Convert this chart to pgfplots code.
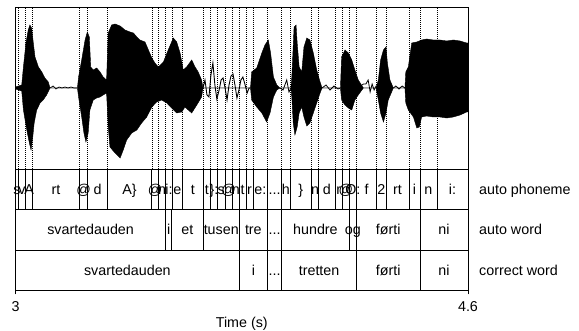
\documentclass[border=0pt]{standalone}
\usepackage{pgfplots}
\pgfplotsset{compat=1.18}
\usepgfplotslibrary{fillbetween}
\usepackage{fontspec}
\setmainfont{Liberation Sans}
\newcommand\lab{\fontsize{14.3}{16}\selectfont}
\tikzset{pl/.style={font=\lab, inner sep=0pt, anchor=base, yshift=-5.1pt},
         rl/.style={font=\lab, inner sep=0pt, anchor=base west, xshift=11pt, yshift=-5.1pt},
         tl/.style={black, line width=0.7pt}}
\begin{document}
\begin{tikzpicture}
% ---------------- tiers and frame ----------------
\begin{axis}[
  at={(0pt,0pt)}, anchor=south west,
  scale only axis, width=452.5pt, height=283.5pt,
  xmin=3, xmax=4.6, ymin=0, ymax=7,
  xtick={3,4.6}, xticklabels={3,4.6}, ytick=\empty, xtick pos=bottom,
  tick align=outside, major tick length=4pt,
  xtick style={black, line width=0.8pt},
  x tick label style={font=\lab, yshift=-3pt},
  xlabel={Time (s)},
  xlabel style={font=\lab, at={(axis description cs:0.5,0)}, anchor=center, yshift=-33.5pt},
  axis line style={line width=0.8pt},
  clip=false,
  /pgf/number format/assume math mode=true,
]
\addplot[tl] coordinates {(3,1) (4.6,1)};
\addplot[tl] coordinates {(3,2) (4.6,2)};
\addplot[tl] coordinates {(3,3) (4.6,3)};
% phoneme boundaries
\pgfplotsinvokeforeach{3.010,3.036,3.061,3.226,3.255,3.325,3.482,3.505,3.531,3.554,3.590,3.664,3.690,3.714,3.741,3.767,3.791,3.815,3.840,3.891,3.941,3.971,4.047,4.071,4.130,4.156,4.180,4.206,4.277,4.310,4.391,4.430,4.490}{
  \addplot[tl] coordinates {(#1,2) (#1,3)};
}
% auto word boundaries
\pgfplotsinvokeforeach{3.531,3.552,3.664,3.791,3.891,3.941,4.180,4.206,4.430}{
  \addplot[tl] coordinates {(#1,1) (#1,2)};
}
% correct word boundaries
\pgfplotsinvokeforeach{3.791,3.891,3.941,4.206,4.430}{
  \addplot[tl] coordinates {(#1,0) (#1,1)};
}
% phoneme labels
\node[pl] at (axis cs:3.005,2.5) {s};
\node[pl] at (axis cs:3.023,2.5) {v};
\node[pl] at (axis cs:3.0485,2.5) {A};
\node[pl] at (axis cs:3.1435,2.5) {rt};
\node[pl] at (axis cs:3.2405,2.5) {@};
\node[pl] at (axis cs:3.290,2.5) {d};
\node[pl] at (axis cs:3.4035,2.5) {A\}};
\node[pl] at (axis cs:3.4935,2.5) {@};
\node[pl] at (axis cs:3.518,2.5) {n};
\node[pl] at (axis cs:3.5425,2.5) {i:};
\node[pl] at (axis cs:3.572,2.5) {e};
\node[pl] at (axis cs:3.627,2.5) {t};
\node[pl] at (axis cs:3.677,2.5) {t};
\node[pl] at (axis cs:3.702,2.5) {\}:};
\node[pl] at (axis cs:3.7275,2.5) {s};
\node[pl] at (axis cs:3.754,2.5) {@};
\node[pl] at (axis cs:3.779,2.5) {n};
\node[pl] at (axis cs:3.803,2.5) {t};
\node[pl] at (axis cs:3.8275,2.5) {r};
\node[pl] at (axis cs:3.8655,2.5) {e:};
\node[pl] at (axis cs:3.916,2.5) {...};
\node[pl] at (axis cs:3.956,2.5) {h};
\node[pl] at (axis cs:4.009,2.5) {\}};
\node[pl] at (axis cs:4.059,2.5) {n};
\node[pl] at (axis cs:4.1005,2.5) {d};
\node[pl] at (axis cs:4.143,2.5) {r};
\node[pl] at (axis cs:4.168,2.5) {@};
\node[pl] at (axis cs:4.193,2.5) {O:};
\node[pl] at (axis cs:4.2415,2.5) {f};
\node[pl] at (axis cs:4.2935,2.5) {2};
\node[pl] at (axis cs:4.3505,2.5) {rt};
\node[pl] at (axis cs:4.4105,2.5) {i};
\node[pl] at (axis cs:4.460,2.5) {n};
\node[pl] at (axis cs:4.545,2.5) {i:};
% auto word labels
\node[pl] at (axis cs:3.2655,1.5) {svartedauden};
\node[pl] at (axis cs:3.5415,1.5) {i};
\node[pl] at (axis cs:3.608,1.5) {et};
\node[pl] at (axis cs:3.7275,1.5) {tusen};
\node[pl] at (axis cs:3.841,1.5) {tre};
\node[pl] at (axis cs:3.916,1.5) {...};
\node[pl] at (axis cs:4.0605,1.5) {hundre};
\node[pl] at (axis cs:4.193,1.5) {og};
\node[pl] at (axis cs:4.318,1.5) {førti};
\node[pl] at (axis cs:4.515,1.5) {ni};
% correct word labels
\node[pl] at (axis cs:3.3955,0.5) {svartedauden};
\node[pl] at (axis cs:3.841,0.5) {i};
\node[pl] at (axis cs:3.916,0.5) {...};
\node[pl] at (axis cs:4.0735,0.5) {tretten};
\node[pl] at (axis cs:4.318,0.5) {førti};
\node[pl] at (axis cs:4.515,0.5) {ni};
% tier names
\node[rl] at (axis cs:4.6,2.5) {auto phoneme};
\node[rl] at (axis cs:4.6,1.5) {auto word};
\node[rl] at (axis cs:4.6,0.5) {correct word};
\end{axis}
% ---------------- waveform ----------------
\begin{axis}[
  at={(0pt,121.5pt)}, anchor=south west,
  scale only axis, width=452.5pt, height=162pt,
  xmin=3, xmax=4.6, ymin=-81, ymax=81, hide axis,
]
\pgfplotsinvokeforeach{3.010,3.036,3.061,3.226,3.255,3.325,3.482,3.505,3.531,3.554,3.590,3.664,3.690,3.714,3.741,3.767,3.791,3.815,3.840,3.891,3.941,3.971,4.047,4.071,4.130,4.156,4.180,4.206,4.277,4.310,4.391,4.430,4.490}{
  \addplot[black, line width=0.6pt, dash pattern=on 0.7pt off 1.3pt] coordinates {(#1,-81) (#1,81)};
}
\addplot[black, line width=0.4pt, name path=up] coordinates {
(3.000,1) (3.022,3) (3.028,21) (3.037,45) (3.045,58) (3.051,63) (3.057,60) (3.063,45) (3.069,31) (3.081,21) (3.093,16) (3.104,10) (3.116,6) (3.122,0) (3.219,0) (3.223,11) (3.234,28) (3.246,48) (3.254,56) (3.261,51) (3.266,21) (3.275,18) (3.287,20) (3.299,16) (3.310,11) (3.322,8) (3.328,55) (3.340,63) (3.352,64) (3.370,62) (3.387,58) (3.405,56) (3.417,55) (3.429,51) (3.440,48) (3.458,46) (3.470,38) (3.482,30) (3.493,25) (3.505,21) (3.523,26) (3.540,38) (3.558,50) (3.570,46) (3.582,35) (3.593,18) (3.605,21) (3.623,28) (3.635,21) (3.646,16) (3.658,8) (3.663,0) (3.831,0) (3.835,16) (3.853,20) (3.871,35) (3.882,43) (3.894,48) (3.902,35) (3.912,11) (3.924,3) (3.935,0) (3.974,0) (3.977,11) (3.985,61) (3.992,63) (3.996,45) (4.003,21) (4.012,16) (4.020,41) (4.030,50) (4.041,48) (4.053,35) (4.065,18) (4.077,6) (4.084,0) (4.149,0) (4.153,31) (4.165,38) (4.177,35) (4.189,28) (4.200,18) (4.212,8) (4.230,0) (4.275,0) (4.283,8) (4.291,28) (4.301,38) (4.310,41) (4.315,25) (4.324,8) (4.336,0) (4.377,0) (4.380,16) (4.389,21) (4.401,45) (4.419,46) (4.436,48) (4.454,49) (4.477,48) (4.501,48) (4.525,47) (4.548,48) (4.572,47) (4.595,45) (4.600,45)
};
\addplot[black, line width=0.4pt, name path=lo] coordinates {
(3.000,-1) (3.022,-3) (3.028,-22) (3.040,-42) (3.049,-55) (3.055,-62) (3.061,-49) (3.066,-35) (3.075,-22) (3.087,-15) (3.098,-12) (3.110,-7) (3.122,0) (3.219,0) (3.223,-9) (3.234,-29) (3.242,-45) (3.249,-54) (3.257,-45) (3.263,-22) (3.275,-12) (3.287,-10) (3.299,-9) (3.310,-7) (3.322,-5) (3.328,-39) (3.334,-59) (3.352,-65) (3.370,-70) (3.381,-62) (3.393,-52) (3.411,-45) (3.429,-42) (3.446,-35) (3.464,-29) (3.482,-19) (3.499,-14) (3.517,-12) (3.535,-15) (3.552,-20) (3.570,-25) (3.588,-24) (3.599,-19) (3.611,-22) (3.623,-25) (3.641,-17) (3.658,-9) (3.663,0) (3.831,0) (3.835,-12) (3.853,-19) (3.871,-25) (3.888,-34) (3.900,-25) (3.912,-9) (3.924,-2) (3.935,0) (3.974,0) (3.977,-9) (3.982,-35) (3.988,-47) (3.996,-39) (4.003,-25) (4.012,-19) (4.020,-29) (4.030,-38) (4.041,-35) (4.053,-25) (4.065,-15) (4.077,-5) (4.084,0) (4.149,0) (4.153,-12) (4.165,-17) (4.177,-20) (4.189,-22) (4.200,-12) (4.212,-7) (4.230,0) (4.275,0) (4.283,-12) (4.291,-25) (4.301,-34) (4.310,-25) (4.318,-12) (4.330,-4) (4.336,0) (4.377,0) (4.380,-15) (4.389,-22) (4.407,-29) (4.419,-40) (4.428,-39) (4.436,-29) (4.454,-28) (4.477,-29) (4.501,-29) (4.525,-30) (4.548,-29) (4.572,-27) (4.595,-24) (4.600,-24)
};
\addplot[black] fill between[of=up and lo];
% low-amplitude stretches
\addplot[black, line width=0.7pt] coordinates {(3.122,0) (3.133,2) (3.143,-1) (3.154,1) (3.164,0) (3.175,1) (3.186,0) (3.196,1) (3.207,0) (3.219,0)};
\addplot[black, line width=0.9pt] coordinates {(3.663,0) (3.670,8) (3.677,-7) (3.684,-9) (3.691,13) (3.698,25) (3.705,3) (3.712,-11) (3.720,-2) (3.727,8) (3.734,10) (3.741,0) (3.748,-12) (3.755,3) (3.762,12) (3.769,14) (3.776,3) (3.783,-10) (3.790,-2) (3.797,8) (3.804,11) (3.812,3) (3.819,-5) (3.826,0) (3.831,0)};
\addplot[black, line width=0.8pt] coordinates {(3.935,0) (3.946,-2) (3.959,8) (3.967,-4) (3.974,0)};
\addplot[black, line width=0.8pt] coordinates {(4.084,0) (4.098,3) (4.112,-2) (4.126,2) (4.140,-1) (4.149,0)};
\addplot[black, line width=0.8pt] coordinates {(4.212,0) (4.230,4) (4.239,4) (4.247,8) (4.254,-4) (4.261,4) (4.268,-2) (4.275,2) (4.283,0)};
\addplot[black, line width=0.8pt] coordinates {(4.336,0) (4.345,2) (4.356,-1) (4.367,2) (4.377,0)};
\end{axis}
\pgfresetboundingbox
\path[use as bounding box] (-15.5pt,-40.5pt) rectangle (563.5pt,290.5pt);
\end{tikzpicture}
\end{document}
